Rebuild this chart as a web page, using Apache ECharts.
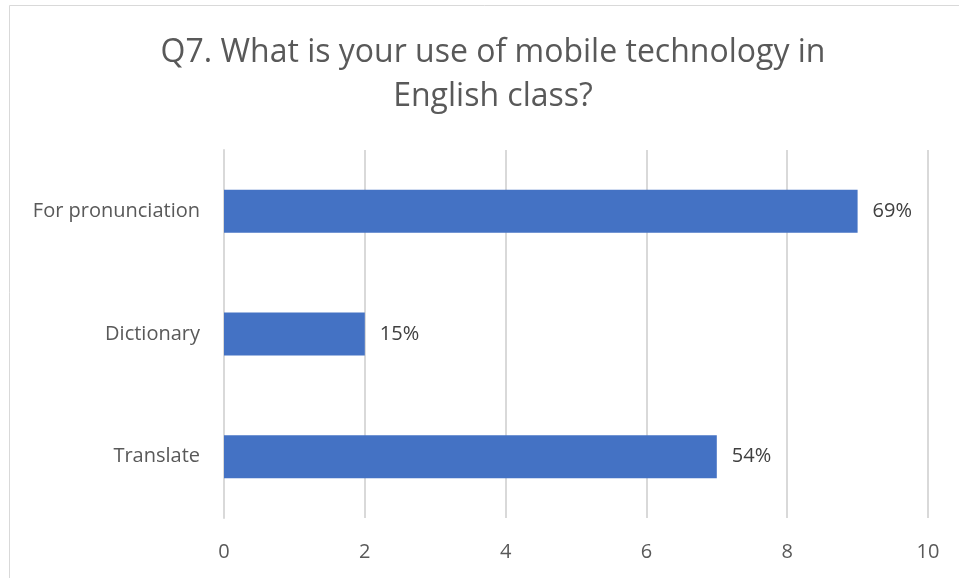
<!DOCTYPE html>
<html>
<head>
<meta charset="utf-8">
<script src="https://cdn.jsdelivr.net/npm/echarts@6/dist/echarts.min.js"></script>
<style>
  html, body { margin: 0; padding: 0; background: #fff; }
  #chart { width: 959px; height: 578px; }
</style>
</head>
<body>
<div id="chart"></div>
<script>
// Survey question Q7: counts of responses per use of mobile technology
const categories = ['Translate', 'Dictionary', 'For pronunciation'];
const counts = [7, 2, 9];
const respondents = 13;
const xTicks = { min: 0, max: 10, interval: 2 };

const FONT = '"Open Sans", "Noto Sans", sans-serif';

const chart = echarts.init(document.getElementById('chart'), null, { renderer: 'canvas' });

chart.setOption({
  animation: false,
  backgroundColor: '#ffffff',
  graphic: [{
    type: 'rect',
    shape: { x: 9.5, y: 5.5, width: 960, height: 600 },
    style: { fill: 'none', stroke: '#d9d9d9', lineWidth: 1 },
    silent: true,
    z: -1
  }],
  title: {
    text: 'Q7. What is your use of mobile technology in\nEnglish class?',
    left: 488,
    textAlign: 'center',
    top: 26,
    textStyle: {
      fontFamily: FONT,
      fontSize: 32,
      fontWeight: 'normal',
      color: '#595959',
      lineHeight: 44
    }
  },
  grid: { left: 224, right: 31, top: 150, bottom: 60, containLabel: false },
  xAxis: {
    type: 'value',
    min: xTicks.min,
    max: xTicks.max,
    interval: xTicks.interval,
    axisLine: { show: false },
    axisTick: { show: false },
    splitLine: { show: true, lineStyle: { color: '#d9d9d9', width: 2 } },
    axisLabel: { color: '#595959', fontFamily: FONT, fontSize: 20, margin: 24 }
  },
  yAxis: {
    type: 'category',
    data: categories,
    axisLine: { show: true, lineStyle: { color: '#d9d9d9', width: 2 } },
    axisTick: { show: false },
    axisLabel: { color: '#595959', fontFamily: FONT, fontSize: 20, margin: 24 }
  },
  series: [{
    type: 'bar',
    data: counts,
    barWidth: 43,
    itemStyle: { color: '#4472c4' },
    label: {
      show: true,
      position: 'right',
      distance: 15,
      color: '#404040',
      fontFamily: FONT,
      fontSize: 20,
      formatter: p => Math.round(p.value / respondents * 100) + '%'
    }
  }]
});
</script>
</body>
</html>
